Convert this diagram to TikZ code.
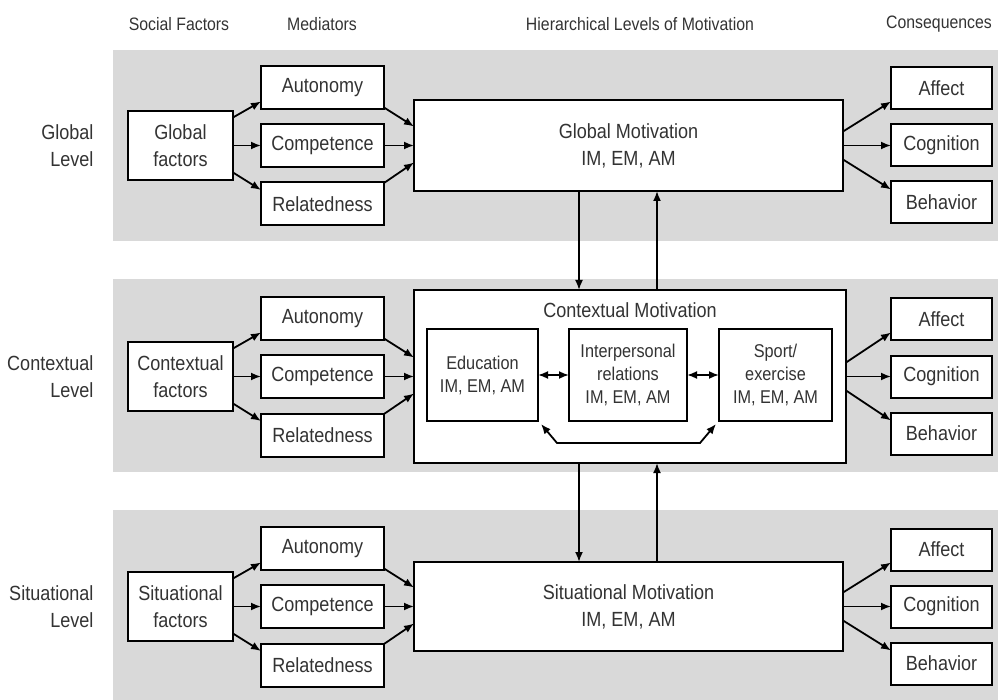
\documentclass[tikz,border=0pt]{standalone}
\usepackage{fontspec}
\setmainfont{Liberation Sans}[FakeStretch=0.88]
\usetikzlibrary{arrows.meta,calc}
\definecolor{band}{HTML}{D9D9D9}
\definecolor{txt}{HTML}{333333}
\begin{document}
\begin{tikzpicture}[x=1pt,y=-1pt,
  every node/.style={text=txt, font=\fontsize{20.5}{27}\selectfont},
  box/.style={draw=black, line width=2pt, fill=white, align=center, inner sep=0pt, outer sep=0pt},
  med/.style={box, minimum width=123pt, minimum height=43pt},
  cons/.style={box, minimum width=101pt, minimum height=42pt},
  subbox/.style={box, minimum height=92pt, font=\fontsize{18.5}{23}\selectfont},
  hdr/.style={font=\fontsize{18}{20}\selectfont},
  arr/.style={line width=1.8pt, -{Latex[length=10pt,width=8pt]}},
  darr/.style={line width=1.8pt, {Latex[length=10pt,width=8pt]}-{Latex[length=10pt,width=8pt]}}]
\useasboundingbox (0,0) rectangle (998,700);
% bands
\fill[band] (113,50) rectangle (998,241);
\fill[band] (113,279) rectangle (998,472);
\fill[band] (113,510) rectangle (998,700);
% headers
\node[hdr] (h1) at (179,24) {Social Factors};
\node[hdr] (h2) at (322,24) {Mediators};
\node[hdr] (h3) at (640,24) {Hierarchical Levels of Motivation};
\node[hdr] (h4) at (939,24) {Consequences};
% motivation boxes
\node[box, minimum width=429pt, minimum height=91pt] (motg) at (628.5,145.5) {Global Motivation\\IM, EM, AM};
\node[box, minimum width=432pt, minimum height=173pt] (motc) at (630,376.5) {};
\node (ctitle) at (630,310) {Contextual Motivation};
\node[subbox, minimum width=111pt] (edu) at (482.5,375) {Education\\IM, EM, AM};
\node[subbox, minimum width=118pt] (ip) at (628,375) {Interpersonal\\relations\\IM, EM, AM};
\node[subbox, minimum width=113pt] (sp) at (775.5,375) {Sport/\\exercise\\IM, EM, AM};
\node[box, minimum width=429pt, minimum height=89pt] (mots) at (628.5,606.5) {Situational Motivation\\IM, EM, AM};
% bands content
\foreach \b/\off/\lab in {g/0/Global, c/231/Contextual, s/461/Situational}{
  \node[anchor=east, align=right] (lvl\b) at (97,{145.5+\off}) {\lab\\Level};
  \node[box, minimum width=105pt, minimum height=69pt] (fac\b) at (180.5,{145.5+\off}) {\lab\\factors};
  \node[med] (au\b) at (322.5,{87.5+\off}) {Autonomy};
  \node[med] (co\b) at (322.5,{145.5+\off}) {Competence};
  \node[med] (re\b) at (322.5,{204+\off}) {Relatedness};
  \node[cons] (af\b) at (941.5,{88.5+\off}) {Affect};
  \node[cons] (cg\b) at (941.5,{145.5+\off}) {Cognition};
  \node[cons] (be\b) at (941.5,{202.5+\off}) {Behavior};
  \draw[arr] ([yshift=28pt]fac\b.east) -- ([yshift=-14pt]au\b.west);
  \draw[arr] (fac\b.east) -- (co\b.west);
  \draw[arr] ([yshift=-27pt]fac\b.east) -- ([yshift=14pt]re\b.west);
  \draw[arr] ([yshift=-20pt]au\b.east) -- ([yshift=19pt]mot\b.west);
  \draw[arr] (co\b.east) -- (co\b.east -| mot\b.west);
  \draw[arr] ([yshift=21pt]re\b.east) -- ([yshift=-17pt]mot\b.west);
  \draw[arr] ([yshift=14pt]mot\b.east) -- ([yshift=-13pt]af\b.west);
  \draw[arr] (cg\b.west -| mot\b.east) -- (cg\b.west);
  \draw[arr] ([yshift=-14pt]mot\b.east) -- ([yshift=13pt]be\b.west);
}
% vertical arrows
\coordinate (xd) at (579,0);
\coordinate (xu) at (657,0);
\draw[arr] (motg.south -| xd) -- (motc.north -| xd);
\draw[arr] (motc.north -| xu) -- (motg.south -| xu);
\draw[arr] (motc.south -| xd) -- (mots.north -| xd);
\draw[arr] (mots.north -| xu) -- (motc.south -| xu);
% contextual internal arrows
\draw[darr] (edu.east) -- (ip.west);
\draw[darr] (ip.east) -- (sp.west);
\coordinate (b1) at (557,443);
\coordinate (b2) at (700,443);
\draw[darr] ([xshift=3pt,yshift=-3pt]edu.south east) -- (b1) -- (b2) -- ([xshift=-3pt,yshift=-3pt]sp.south west);
\end{tikzpicture}
\end{document}
